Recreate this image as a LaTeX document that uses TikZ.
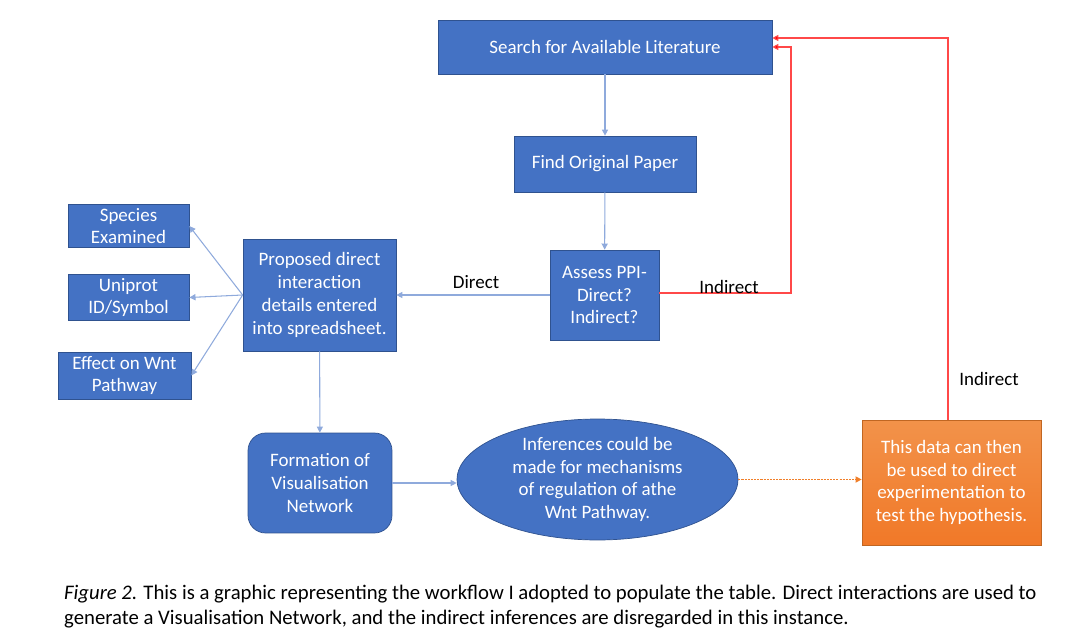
\documentclass[tikz,border=0pt]{standalone}
\usepackage{fontspec}
\setmainfont{Carlito}
\usetikzlibrary{arrows.meta,shapes.geometric}
\definecolor{boxblue}{HTML}{4472C4}
\definecolor{boxedge}{HTML}{2F528F}
\definecolor{linkblue}{HTML}{8FAADC}
\definecolor{boxorange}{HTML}{F07F2A}
\definecolor{linkred}{HTML}{FF4848}
\begin{document}
\begin{tikzpicture}[
x=0.02cm, y=-0.02cm,
flowbox/.style={
    draw=boxedge,
    fill=boxblue,
    rectangle,
    text=white,
    align=center,
    inner sep=2pt,
    font=\fontsize{10.8}{13}\selectfont},
roundbox/.style={flowbox, rounded corners=10pt},
link/.style={draw=linkblue, line width=0.6pt, -{Triangle[length=3.5pt,width=3.5pt]}},
redlink/.style={draw=linkred, line width=0.65pt, -{Triangle[length=3.5pt,width=3.5pt,fill=red]}},
lbl/.style={font=\fontsize{10.8}{13}\selectfont}
]

\useasboundingbox (0,0) rectangle (1078,642);

\node (search) at (605, 47) [flowbox, minimum width=6.68cm, minimum height=1.08cm] {Search for Available Literature};
\node (find) at (605, 164) [flowbox, minimum width=3.64cm, minimum height=1.12cm] {Find Original Paper};
\node (assess) at (604.5, 295) [flowbox, minimum width=2.18cm, minimum height=1.8cm] {Assess PPI-\\Direct?\\Indirect?};
\node (proposed) at (319.5, 295) [flowbox, minimum width=3.06cm, minimum height=2.24cm] {Proposed direct\\interaction\\details entered\\into spreadsheet.};

\node (species) at (128.5, 226) [flowbox, minimum width=2.42cm, minimum height=0.84cm] {Species\\Examined};
\node (uniprot) at (128.5, 297.5) [flowbox, minimum width=2.42cm, minimum height=0.82cm] {Uniprot\\ID/Symbol};
\node (effect) at (124.5, 375.5) [flowbox, minimum width=2.66cm, minimum height=0.94cm] {Effect on Wnt\\Pathway};

\node (formation) at (320, 483) [roundbox, minimum width=2.88cm, minimum height=2cm] {Formation of\\Visualisation\\Network};
\node (inference) at (597.5, 479.5) [flowbox, ellipse, inner sep=0pt, minimum width=5.62cm, minimum height=2.42cm] {Inferences could be\\made for mechanisms\\of regulation of athe\\Wnt Pathway.};
\node (hypothesis) at (951.5, 482.5) [flowbox, draw=boxorange!80!black, top color=boxorange!85!white, bottom color=boxorange!95!red, minimum width=3.58cm, minimum height=2.5cm] {This data can then\\be used to direct\\experimentation to\\test the hypothesis.};

% main flow
\draw [link] (search) -- (find);
\draw [link] (find) -- (assess);
\draw [link] (assess) -- node [lbl, above, pos=0.48] {Direct} (proposed);
\draw [link] (proposed.west) -- (species.east);
\draw [link] (proposed.west) -- (uniprot.east);
\draw [link] (proposed.west) -- (effect.east);
\draw [link] (proposed) -- (formation);
\draw [link] (formation.east) -- (formation.east -| inference.west);
\draw [draw=boxorange, dash pattern=on 1.2pt off 0.6pt, line width=0.7pt, -{Triangle[length=3.5pt,width=3.5pt]}] (inference.east) -- (hypothesis.west |- inference.east);

% indirect loops back to the search
\coordinate (assessout) at (791, 293);
\coordinate (hypout) at (948, 38);
\draw [redlink] (assess.east |- assessout) -- (assessout) -- (assessout |- search) -- (search.east);
\draw [redlink] (hypothesis.north -| hypout) -- (hypout) -- (search.east |- hypout);
\node (indirectA) at (729, 287) [lbl] {Indirect};
\node (indirectB) at (989, 379) [lbl] {Indirect};

\node (caption) at (58, 607) [anchor=west, align=left, font=\fontsize{11.8}{14.2}\selectfont] {\textit{Figure 2.} This is a graphic representing the workflow I adopted to populate the table. Direct interactions are used to\\generate a Visualisation Network, and the indirect inferences are disregarded in this instance.};

\end{tikzpicture}
\end{document}
